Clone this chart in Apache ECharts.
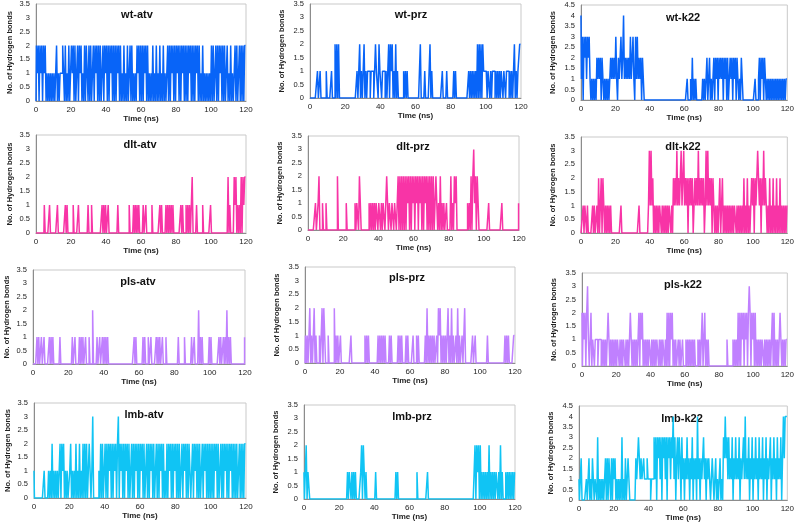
<!DOCTYPE html>
<html><head><meta charset="utf-8">
<script src="https://cdn.jsdelivr.net/npm/echarts@6/dist/echarts.min.js"></script>
<style>html,body{margin:0;padding:0;background:#fff}#c{width:797px;height:526px}</style>
</head><body><div id="c"></div>
<script>
// Number of hydrogen bonds, one digit per 0.5 ns step, 10 ns per chunk (0-120 ns)
const wtAtv = ["02120212021201010101","01012010111210201020","02120201202120102021","02020120212020201202","12020212020202120201","02010201202010102120","20202120201010201020","10201020101202021202","02120202120202021202","02021202010201010101","02020120202120202012","010201012020120202022"];
const wtPrz = ["00000000010010000001","00000100020202000000","00000000000000101201","01201011101110121102","11011101012021201020","10000001010100000000","00000020000100001201","00000000000100001000","00001010000000000000","01010101010202020211","11011010111010101011","011011101010120101122"];
const wtK22 = ["41303231323101010102","12120210101010121212","13102123124121212131","23103131212021000000","00000000000000000000","00000000000000000000","00001000102010100000","00101012012010120212","02121202120201212021","20210102100000000000","00010001202120210101","010101010101010101011"];
const dltAtv = ["00000000001000001000","00000100000000101000","00010000010000000000","10001000000000001010","10010000000000100000","00000001000010101010","00010010000001000000","00101000010101010100","00000010100010101002","00001000000100000000","10000000000000000000","201000021201010202122"];
const dltPrz = ["00000000010012000100","01000000000000200000","00001000000000101102","10000000001010101011","01101011012101101101","10120202020202120202","12021202120202120202","02020121010201010010","00020102120000000000","00101020231202100000","00000010000000000000","010000000000000000001"];
const dltK22 = ["00010110100000101001","02012021010101010000","00000001000000000000","00000000100000000001","31312010101011010101","01011010212131212312","31212021212012121312","12120131312120210101","01201201010101010101","10101010102010201012","12021232120213121010","201020102010201010101"];
const plsAtv = ["00000101001001000001","01010000000100000000","00000100100001010100","10001000200001001001","01010100000000000000","00000000000000010100","00000101000100100000","10101001000100000000","00000100000010000000","10010000201010000000","10100000000101001010","201010000000000000001"];
const plsPrz = ["01010120101201000101","20210001000000201010","01000000000001000000","00000000010101000000","00001010101010000101","00000001010100001010","00001000101000000010","20101010100102120101","01012010201001020100","10020000000010010000","00000000010000000000","000000000101010000011"];
const plsK22 = ["20212023101201101110","11101010101210101010","10110101011010101210","10101012021201010101","10101010110101011010","20202120101001010010","00101010101010001010","02002010100000000000","00000000001000000101","01020202120212023202","12020101010110101010","101202010101210101011"];
const lmbAtv = ["10000000000010000101","02010101012021201010","01201010201020102020","20121013000000102020","12020212020212023021","20202120201202021202","02120201202021202012","02021202010202120202","12020201202120202101","20212020201202120202","02020212020120202120","202120202020120202022"];
const lmbPrz = ["10120110000000000000","00000000000000000000","00000000001011010101","00000120210100000000","00100000000000000000","00000101000000000000","00000000010000000000","01000000000000000000","00000000000000000000","00000000000000120212","02010101010201010101","101020100010101010101"];
const lmbK22 = ["10120000010120102101","10301010101202021020","21201010103010201210","00000021232121121112","11101113130323130323","13032313241302313203","12021312021302120412","02123120212101210120","10120103242313121302","13121302123141213021","30213120312130213021","230213120312130242444"];

const xTicks = {min: 0, max: 120, interval: 20};
const panelNames = ["wt-atv","wt-prz","wt-k22","dlt-atv","dlt-prz","dlt-k22","pls-atv","pls-prz","pls-k22","lmb-atv","lmb-prz","lmb-k22"];
const panelData = [wtAtv, wtPrz, wtK22, dltAtv, dltPrz, dltK22, plsAtv, plsPrz, plsK22, lmbAtv, lmbPrz, lmbK22];
const yMaxes = [3.5,3.5,4.5, 3.5,3.5,3.5, 3.5,3.5,3.5, 3.5,3.5,4.5];

// layout (pixels) and styles
const gridBoxes = [
  [36,3,210,98],[310,4,211,94],[581,5,208,95],
  [36,135,210,98],[308,136,211,94],[581,137,209,96],
  [33,270,212,94],[305,267,210,96],[582,273,208,93],
  [34,403,212,95],[304,405,211,94],[579,406,209,94]
];
const titlePos = [
  [137,15],[411,15],[683,18],
  [140,145],[413,147],[683,147],
  [138,282],[407,278],[683,285],
  [144,415],[412,417],[682,419]
];
const rowColors = ['#0864f8','#f834a6','#c080ff','#10c4f4'];

function parse(chunks){ return chunks.join('').split('').map(Number); }

const grids = [], xAxes = [], yAxes = [], series = [], graphics = [];
panelNames.forEach((name, k) => {
  const b = gridBoxes[k];
  grids.push({left: b[0], top: b[1], width: b[2], height: b[3], show: true, borderColor: '#c9c9c9', borderWidth: 1, backgroundColor: 'transparent'});
  xAxes.push({type: 'value', gridIndex: k, min: xTicks.min, max: xTicks.max, interval: xTicks.interval,
    name: 'Time (ns)', nameLocation: 'middle', nameGap: 14,
    nameTextStyle: {fontSize: 8, fontWeight: 'bold', color: '#222', fontFamily: 'Liberation Sans'},
    axisLine: {show: true, lineStyle: {color: '#8c8c8c', width: 1}}, axisTick: {show: false},
    splitLine: {show: false},
    axisLabel: {fontSize: 8, color: '#222', margin: 5, fontFamily: 'Liberation Sans'}});
  yAxes.push({type: 'value', gridIndex: k, min: 0, max: yMaxes[k], interval: 0.5,
    name: 'No. of Hydrogen bonds', nameLocation: 'middle', nameRotate: 90, nameGap: k % 3 === 0 ? 22 : 24,
    nameTextStyle: {fontSize: 7.5, fontWeight: 'bold', color: '#222', fontFamily: 'Liberation Sans'},
    axisLine: {show: true, lineStyle: {color: '#8c8c8c', width: 1}}, axisTick: {show: false},
    splitLine: {show: false},
    axisLabel: {fontSize: 7.5, color: '#222', margin: 6, fontFamily: 'Liberation Sans'}});
  const vals = parse(panelData[k]);
  const n = vals.length;
  series.push({type: 'line', step: 'middle', xAxisIndex: k, yAxisIndex: k, showSymbol: false, symbol: 'none',
    sampling: null, animation: false, silent: true,
    lineStyle: {width: 1.5, color: rowColors[Math.floor(k / 3)]},
    data: vals.map((v, i) => [i * xTicks.max / (n - 1), v])});
  graphics.push({type: 'text', x: titlePos[k][0], y: titlePos[k][1],
    style: {text: name, textAlign: 'center', textVerticalAlign: 'middle', font: 'bold 11px "Liberation Sans"', fill: '#111'}});
});

const chart = echarts.init(document.getElementById('c'), null, {renderer: 'canvas'});
chart.setOption({animation: false, grid: grids, xAxis: xAxes, yAxis: yAxes, series: series, graphic: graphics});
</script></body></html>
